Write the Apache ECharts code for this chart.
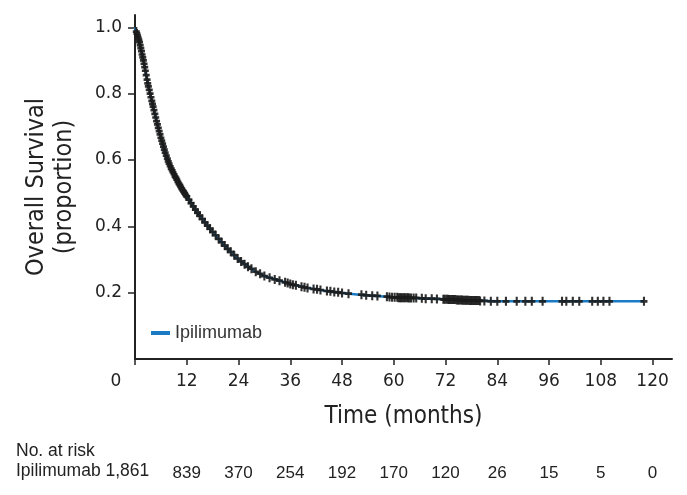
<!DOCTYPE html>
<html>
<head>
<meta charset="utf-8">
<script src="https://cdn.jsdelivr.net/npm/echarts@6/dist/echarts.min.js"></script>
<style>html,body{margin:0;padding:0;background:#fff;}#c{width:687px;height:495px;}</style>
</head>
<body>
<div id="c"></div>
<script>
// ---- data ----
const seriesName = 'Ipilimumab';
const xTicks = [0, 12, 24, 36, 48, 60, 72, 84, 96, 108, 120];
const yTicks = [0.2, 0.4, 0.6, 0.8, 1.0];
const atRisk = [1861, 839, 370, 254, 192, 170, 120, 26, 15, 5, 0];
// KM curve (months, survival proportion)
const curveT = [0, 1, 2, 3, 4, 5, 6, 7, 8, 9, 10, 11, 12, 13, 14, 15, 16, 18, 20, 22, 24, 26, 28, 30, 33, 36, 40, 44, 48, 52, 56, 60, 66, 72, 78, 84, 118];
const curveS = [1.0, 0.958, 0.897, 0.828, 0.772, 0.717, 0.667, 0.622, 0.585, 0.558, 0.533, 0.51, 0.49, 0.47, 0.45, 0.432, 0.415, 0.383, 0.353, 0.325, 0.3, 0.28, 0.263, 0.25, 0.238, 0.226, 0.214, 0.206, 0.199, 0.194, 0.19, 0.186, 0.183, 0.18, 0.176, 0.174, 0.174];
// censored observations [months, survival proportion]
const censored = [
  [0.3,0.987],[0.45,0.981],[0.6,0.975],[0.75,0.968],[0.9,0.962],[1.05,0.955],[1.2,0.946],[1.35,0.937],[1.5,0.928],[1.65,0.918],
  [1.8,0.909],[1.95,0.9],[2.1,0.89],[2.25,0.88],[2.4,0.869],[2.6,0.856],[2.8,0.842],[2.95,0.831],[3.1,0.822],[3.3,0.811],
  [3.5,0.8],[3.7,0.789],[3.9,0.778],[4.05,0.769],[4.2,0.761],[4.4,0.75],[4.6,0.739],[4.8,0.728],[5.0,0.717],[5.2,0.707],
  [5.4,0.697],[5.6,0.687],[5.8,0.677],[6.0,0.667],[6.2,0.658],[6.4,0.649],[6.6,0.64],[6.8,0.631],[7.0,0.622],[7.25,0.613],
  [7.5,0.604],[7.7,0.596],[7.9,0.589],[8.15,0.581],[8.4,0.574],[8.6,0.569],[8.8,0.563],[9.05,0.557],[9.3,0.55],[9.5,0.546],
  [9.7,0.541],[9.95,0.534],[10.2,0.528],[10.4,0.524],[10.6,0.519],[10.85,0.513],[11.1,0.508],[11.3,0.504],[11.5,0.5],[11.75,0.495],
  [12.0,0.49],[12.5,0.48],[13.0,0.47],[13.5,0.46],[14.0,0.45],[14.5,0.441],[15.0,0.432],[15.6,0.422],[16.2,0.412],[16.8,0.402],
  [17.4,0.393],[18.0,0.383],[18.7,0.373],[19.4,0.362],[20.1,0.352],[20.8,0.342],[21.5,0.332],[22.2,0.323],[23.0,0.313],[23.8,0.303],
  [24.6,0.294],[25.4,0.286],[26.2,0.278],[27.0,0.272],[28.0,0.263],[29.0,0.257],[30.0,0.25],[31.2,0.245],[32.4,0.24],[33.5,0.236],
  [34.8,0.231],[35.4,0.229],[36.0,0.226],[36.6,0.224],[37.3,0.222],[38.6,0.218],[39.3,0.216],[40.0,0.214],[41.4,0.211],[42.2,0.21],
  [43.0,0.208],[44.5,0.205],[45.3,0.204],[46.2,0.202],[47.1,0.201],[48.0,0.199],[49.5,0.197],[52.5,0.194],[53.6,0.192],[55.0,0.191],
  [56.2,0.19],[58.4,0.188],[59.0,0.187],[59.6,0.186],[60.2,0.186],[60.8,0.186],[61.1,0.185],[61.4,0.185],[61.7,0.185],[62.0,0.185],
  [62.3,0.185],[62.6,0.185],[63.0,0.185],[63.3,0.185],[63.6,0.184],[64.0,0.184],[64.6,0.184],[65.2,0.184],[66.5,0.183],[67.4,0.182],
  [68.8,0.182],[70.0,0.181],[71.5,0.18],[71.8,0.18],[72.2,0.18],[72.5,0.18],[72.8,0.179],[73.1,0.179],[73.4,0.179],[73.7,0.179],
  [74.0,0.179],[74.3,0.179],[74.6,0.178],[74.9,0.178],[75.2,0.178],[75.5,0.178],[75.8,0.178],[76.1,0.177],[76.4,0.177],[76.7,0.177],
  [77.0,0.177],[77.3,0.177],[77.6,0.176],[77.9,0.176],[78.2,0.176],[78.5,0.176],[78.8,0.176],[79.1,0.176],[79.4,0.176],[79.7,0.176],
  [80.0,0.175],[81.0,0.175],[82.5,0.174],[84.0,0.174],[86.0,0.174],[88.5,0.174],[90.5,0.174],[92.0,0.174],[94.5,0.174],[99.0,0.174],
  [100.0,0.174],[101.5,0.174],[103.0,0.174],[106.0,0.174],[107.3,0.174],[108.6,0.174],[110.0,0.174],[118.0,0.174]
];

const curve = curveT.map((t, i) => [t, curveS[i]]);
const fmtN = n => n.toLocaleString('en-US');

const TITLE_FONT = '"DejaVu Sans Condensed", "Liberation Sans Narrow", sans-serif';
const TICK_FONT = '"DejaVu Sans", sans-serif';
const SANS = '"Liberation Sans", Arial, sans-serif';
const chart = echarts.init(document.getElementById('c'), null, {renderer: 'canvas'});
chart.setOption({
  animation: false,
  backgroundColor: '#fff',
  grid: {left: 135, right: 15, top: 15, bottom: 136},
  legend: {
    data: [seriesName], left: 146, top: 319, icon: 'rect', itemWidth: 19, itemHeight: 4, itemGap: 6,
    textStyle: {fontSize: 18, color: '#333', fontFamily: SANS}
  },
  xAxis: [{
    type: 'value', min: 0, max: 124.5,
    axisLine: {lineStyle: {color: '#222', width: 2}},
    axisTick: {customValues: xTicks, length: 6, lineStyle: {color: '#222', width: 1.5}},
    axisLabel: {
      customValues: xTicks, margin: 14, fontSize: 17, color: '#222', fontFamily: TICK_FONT,
      formatter: v => v === 0 ? '{z|0}' : String(v),
      rich: {z: {padding: [0, 38, 0, 0], fontSize: 17, color: '#222', fontFamily: TICK_FONT}}
    },
    splitLine: {show: false},
    name: 'Time (months)', nameLocation: 'middle', nameGap: 46,
    nameTextStyle: {fontSize: 24, color: '#222', fontFamily: TITLE_FONT}
  }, {
    type: 'value', min: 0, max: 124.5, position: 'bottom', offset: 106,
    axisLine: {show: false}, axisTick: {show: false}, splitLine: {show: false},
    axisLabel: {
      customValues: xTicks.slice(1), fontSize: 17, color: '#222', margin: 0, fontFamily: SANS,
      formatter: v => fmtN(atRisk[xTicks.indexOf(v)])
    }
  }],
  yAxis: {
    type: 'value', min: 0, max: 1.037,
    axisLine: {show: true, lineStyle: {color: '#222', width: 2}},
    axisTick: {show: true, customValues: yTicks, length: 7, lineStyle: {color: '#222', width: 1.5}},
    axisLabel: {customValues: yTicks, margin: 13, fontSize: 17, color: '#222', fontFamily: TICK_FONT,
      formatter: v => v.toFixed(1)},
    splitLine: {show: false},
    name: 'Overall Survival\n(proportion)', nameLocation: 'middle', nameRotate: 90, nameGap: 57,
    nameTextStyle: {fontSize: 25, lineHeight: 28, color: '#222', fontFamily: TITLE_FONT, align: 'center'}
  },
  graphic: [
    {type: 'text', left: 16, top: 442, style: {text: 'No. at risk', fill: '#222', font: '17.5px "Liberation Sans", Arial, sans-serif'}},
    {type: 'text', left: 16, top: 462, style: {text: seriesName + ' ' + fmtN(atRisk[0]), fill: '#222', font: '17.5px "Liberation Sans", Arial, sans-serif'}}
  ],
  series: [{
    name: seriesName, type: 'line', data: curve, showSymbol: false, smooth: false,
    lineStyle: {color: '#1a7bc4', width: 2.5}, itemStyle: {color: '#1a7bc4'}, z: 2
  }, {
    name: 'censored', type: 'scatter', data: censored,
    symbol: 'path://M3.5,0L6.5,0L6.5,10L3.5,10ZM0,3.5L10,3.5L10,6.5L0,6.5Z', symbolSize: [7, 9], symbolKeepAspect: false,
    itemStyle: {color: '#1c1c1c', opacity: 0.9}, z: 3
  }]
});
</script>
</body>
</html>
